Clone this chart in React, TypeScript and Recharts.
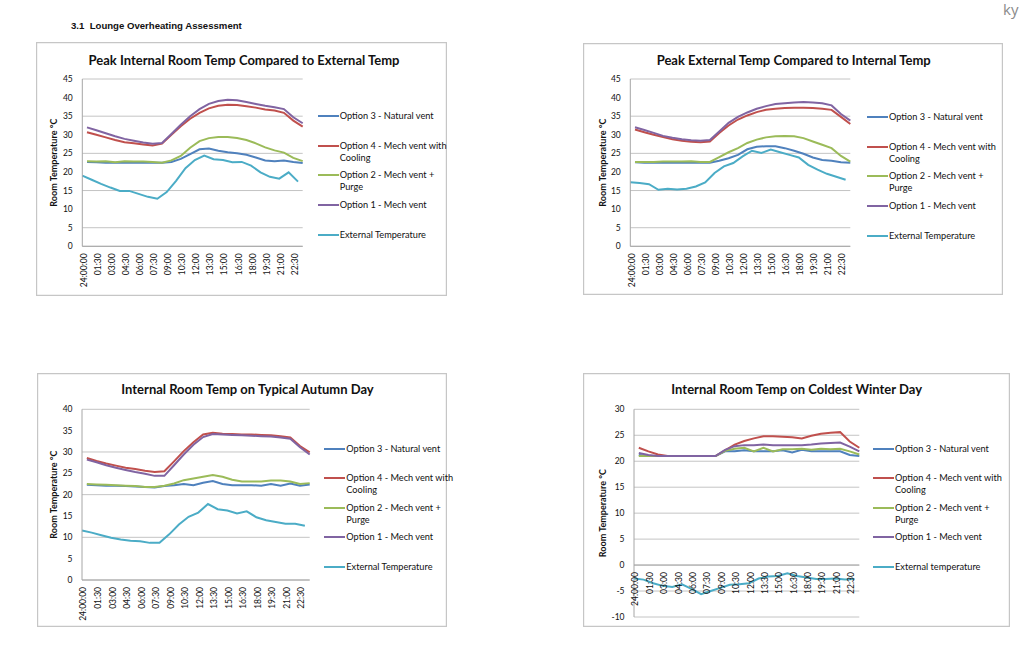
import React from 'react'
import {
  LineChart,
  Line,
  XAxis,
  YAxis,
  CartesianGrid,
  Legend,
  ReferenceLine,
} from 'recharts'

// half-hour slots, first one labelled the way the spreadsheet did it
const times = [
  '24:00:00', '00:30', '01:00', '01:30', '02:00', '02:30', '03:00', '03:30',
  '04:00', '04:30', '05:00', '05:30', '06:00', '06:30', '07:00', '07:30',
  '08:00', '08:30', '09:00', '09:30', '10:00', '10:30', '11:00', '11:30',
  '12:00', '12:30', '13:00', '13:30', '14:00', '14:30', '15:00', '15:30',
  '16:00', '16:30', '17:00', '17:30', '18:00', '18:30', '19:00', '19:30',
  '20:00', '20:30', '21:00', '21:30', '22:00', '22:30', '23:00', '23:30',
]

// options are hourly on the :30 slots, external temp hourly on the :00 slots
const peakIntO3 = [22.7, 22.6, 22.5, 22.5, 22.5, 22.5, 22.5, 22.5, 22.5, 22.7, 23.5, 24.8, 26.1, 26.3, 25.7, 25.3, 25.0, 24.6, 23.9, 23.1, 22.9, 23.1, 22.7, 22.4]
const peakIntO4 = [30.7, 30.0, 29.3, 28.6, 28.0, 27.7, 27.4, 27.1, 27.6, 30.0, 32.3, 34.3, 35.9, 37.1, 37.8, 38.1, 38.0, 37.7, 37.3, 36.8, 36.5, 35.9, 33.8, 32.2]
const peakIntO2 = [22.9, 22.8, 22.9, 22.6, 22.9, 22.8, 22.8, 22.7, 22.5, 23.1, 24.3, 26.5, 28.3, 29.1, 29.4, 29.4, 29.1, 28.6, 27.7, 26.6, 25.8, 25.2, 23.8, 22.9]
const peakIntO1 = [32.0, 31.2, 30.4, 29.6, 28.9, 28.4, 27.9, 27.6, 27.8, 30.2, 32.7, 35.0, 36.9, 38.3, 39.1, 39.4, 39.3, 38.8, 38.3, 37.8, 37.4, 36.9, 34.7, 33.1]
const peakIntExt = [19.0, 17.9, 16.8, 15.8, 14.9, 14.9, 14.1, 13.3, 12.8, 14.6, 17.6, 21.0, 23.2, 24.4, 23.4, 23.2, 22.6, 22.7, 21.7, 19.9, 18.7, 18.2, 19.9, 17.4]

const peakExtO3 = [22.6, 22.5, 22.5, 22.5, 22.5, 22.5, 22.5, 22.5, 22.5, 23.0, 23.7, 24.6, 26.1, 26.8, 26.9, 26.9, 26.4, 25.7, 24.9, 23.9, 23.2, 23.0, 22.6, 22.5]
const peakExtO4 = [31.4, 30.7, 30.0, 29.4, 28.8, 28.4, 28.1, 28.0, 28.2, 30.5, 32.5, 34.1, 35.2, 36.1, 36.7, 37.0, 37.2, 37.3, 37.3, 37.2, 37.0, 36.7, 34.8, 32.9]
const peakExtO2 = [22.7, 22.7, 22.7, 22.8, 22.8, 22.8, 22.9, 22.7, 22.7, 24.0, 25.3, 26.4, 27.8, 28.7, 29.3, 29.6, 29.7, 29.6, 29.1, 28.2, 27.3, 26.4, 24.3, 22.8]
const peakExtO1 = [32.0, 31.3, 30.5, 29.7, 29.2, 28.8, 28.5, 28.4, 28.6, 30.9, 33.2, 34.8, 36.0, 37.0, 37.7, 38.3, 38.5, 38.7, 38.8, 38.7, 38.5, 37.9, 35.6, 33.8]
const peakExtExt = [17.2, 17.0, 16.7, 15.2, 15.5, 15.3, 15.5, 16.1, 17.2, 19.7, 21.5, 22.4, 24.2, 25.7, 25.1, 26.0, 25.3, 24.6, 23.9, 21.9, 20.6, 19.5, 18.7, 17.9]

const autumnO3 = [22.3, 22.2, 22.1, 22.1, 22.0, 21.9, 21.8, 21.7, 22.0, 22.2, 22.5, 22.2, 22.8, 23.2, 22.5, 22.2, 22.2, 22.2, 22.1, 22.5, 22.1, 22.6, 22.1, 22.4]
const autumnO4 = [28.6, 27.9, 27.3, 26.8, 26.3, 26.0, 25.6, 25.3, 25.5, 27.8, 30.2, 32.3, 34.1, 34.5, 34.3, 34.2, 34.1, 34.1, 34.0, 33.9, 33.7, 33.4, 31.4, 29.9]
const autumnO2 = [22.5, 22.4, 22.3, 22.2, 22.1, 22.0, 21.8, 21.8, 22.1, 22.6, 23.4, 23.8, 24.2, 24.6, 24.2, 23.5, 23.1, 23.1, 23.1, 23.3, 23.3, 23.1, 22.5, 22.7]
const autumnO1 = [28.2, 27.6, 26.9, 26.3, 25.8, 25.3, 24.9, 24.4, 24.4, 26.9, 29.4, 31.7, 33.5, 34.2, 34.1, 34.0, 33.9, 33.8, 33.7, 33.6, 33.4, 33.1, 31.1, 29.4]
const autumnExt = [11.6, 11.1, 10.5, 9.9, 9.5, 9.2, 9.1, 8.7, 8.7, 10.7, 13.0, 14.8, 15.8, 17.8, 16.6, 16.3, 15.6, 16.1, 14.7, 14.0, 13.6, 13.2, 13.2, 12.7]

const winterO3 = [21.2, 21.0, 21.0, 21.0, 21.0, 21.0, 21.0, 21.0, 21.0, 21.9, 21.9, 22.1, 21.9, 21.9, 21.9, 22.1, 21.7, 22.2, 21.9, 21.9, 21.9, 21.9, 21.2, 21.0]
const winterO4 = [22.6, 21.9, 21.3, 21.0, 21.0, 21.0, 21.0, 21.0, 21.0, 22.1, 23.2, 23.9, 24.4, 24.8, 24.8, 24.7, 24.6, 24.4, 24.9, 25.3, 25.5, 25.6, 23.8, 22.6]
const winterO2 = [21.0, 21.0, 21.0, 21.0, 21.0, 21.0, 21.0, 21.0, 21.0, 22.0, 22.4, 22.6, 21.9, 22.6, 21.9, 22.3, 22.3, 22.4, 22.2, 22.4, 22.3, 22.4, 21.9, 21.3]
const winterO1 = [21.6, 21.2, 21.0, 21.0, 21.0, 21.0, 21.0, 21.0, 21.0, 22.2, 22.9, 23.1, 23.1, 23.2, 23.1, 23.1, 23.1, 23.1, 23.2, 23.4, 23.5, 23.6, 22.8, 21.9]
const winterExt = [-2.6, -2.8, -3.5, -4.0, -4.2, -3.7, -4.6, -5.6, -5.0, -4.4, -3.8, -3.7, -3.5, -2.6, -2.2, -2.1, -1.6, -2.1, -2.4, -2.7, -2.7, -2.6, -2.8, -2.7]

const ticks45 = [0, 5, 10, 15, 20, 25, 30, 35, 40, 45]
const ticks40 = [0, 5, 10, 15, 20, 25, 30, 35, 40]
const ticksWinter = [-10, -5, 0, 5, 10, 15, 20, 25, 30]

const FONT = 'Lato, "Noto Sans", sans-serif'
const GRID = '#c4c4c4'
const AXIS = '#a6a6a6'

function buildRows(o3: number[], o4: number[], o2: number[], o1: number[], ext: number[]) {
  return times.map((t, i) => {
    const odd = i % 2 === 1
    const h = odd ? (i - 1) / 2 : i / 2
    return {
      t,
      o3: odd ? o3[h] : null,
      o4: odd ? o4[h] : null,
      o2: odd ? o2[h] : null,
      o1: odd ? o1[h] : null,
      ext: odd ? null : ext[h],
    }
  })
}

type Series = { key: string; name: string; color: string }

const series = (extName: string): Series[] => [
  { key: 'o3', name: 'Option 3 - Natural vent', color: '#4F81BD' },
  { key: 'o4', name: 'Option 4 - Mech vent with Cooling', color: '#C0504D' },
  { key: 'o2', name: 'Option 2 - Mech vent + Purge', color: '#9BBB59' },
  { key: 'o1', name: 'Option 1 - Mech vent', color: '#8064A2' },
  { key: 'ext', name: extName, color: '#4BACC6' },
]

function XTick(props: any) {
  const { x, y, payload, shift } = props
  return (
    <g transform={`translate(${x + 1.5},${y + 7 - (shift || 0)})`}>
      <text transform="rotate(-90)" textAnchor="end" dy="0.35em" fontSize={8.5} fill="#111" fontFamily={FONT}>
        {payload.value}
      </text>
    </g>
  )
}

// legend in series order (recharts would sort it by name)
function makeLegend(list: Series[], gap: number) {
  return () => (
    <div style={{ fontFamily: FONT, fontSize: 9.2, color: '#111' }}>
      {list.map(it => (
        <div key={it.key} style={{ display: 'flex', height: gap, alignItems: 'flex-start' }}>
          <svg width={21} height={12} style={{ flex: 'none' }}>
            <line x1={0} x2={21} y1={6} y2={6} stroke={it.color} strokeWidth={2} />
          </svg>
          <div style={{ width: 114, flex: 'none', lineHeight: '12px', marginLeft: 1 }}>{it.name}</div>
        </div>
      ))}
    </div>
  )
}

type ChartProps = {
  title: string
  box: { x: number; y: number; w: number; h: number }
  plot: { l: number; r: number; t: number; b: number }
  titleX: number
  titleY: number
  yTitleX: number
  legend: { x: number; y: number; gap: number }
  domain: [number, number]
  ticks: number[]
  rows: any[]
  extName: string
}

const YW = 40
const XH = 8

function TempChart({ title, box, plot, titleX, titleY, yTitleX, legend, domain, ticks, rows, extName }: ChartProps) {
  const margin = {
    left: plot.l - box.x - YW,
    top: plot.t - box.y,
    right: box.x + box.w - plot.r,
    bottom: box.y + box.h - plot.b - XH,
  }
  // axis crosses at zero: move the category labels up to the zero line
  const shift = domain[0] < 0 ? ((plot.b - plot.t) * (0 - domain[0])) / (domain[1] - domain[0]) : 0
  const list = series(extName)
  return (
    <div
      style={{
        position: 'absolute',
        left: box.x,
        top: box.y,
        width: box.w,
        height: box.h,
        boxShadow: 'inset 0 0 0 1.2px #c6c6c6',
        background: '#fff',
      }}
    >
      <div
        style={{
          position: 'absolute',
          left: titleX - box.x,
          top: titleY - box.y - 8,
          transform: 'translateX(-50%)',
          whiteSpace: 'nowrap',
          fontFamily: FONT,
          fontWeight: 700,
          fontSize: 13,
          lineHeight: '16px',
          color: '#111',
        }}
      >
        {title}
      </div>
      <div style={{ position: 'absolute', left: 0, top: 0 }}>
        <LineChart width={box.w} height={box.h} data={rows} margin={margin}>
          <CartesianGrid vertical={false} stroke={GRID} strokeWidth={1} />
          <XAxis
            dataKey="t"
            interval={2}
            height={XH}
            tickSize={0}
            tickMargin={0}
            tickLine={false}
            axisLine={shift ? false : { stroke: AXIS }}
            tick={<XTick shift={shift} />}
          />
          <YAxis
            width={YW}
            domain={domain}
            ticks={ticks}
            allowDataOverflow
            tickSize={0}
            tickMargin={9.5}
            tickLine={false}
            axisLine={{ stroke: AXIS }}
            tick={{ fontSize: 8.5, fill: '#111', fontFamily: FONT }}
            label={{
              value: 'Room Temperature °C',
              angle: -90,
              position: 'insideLeft',
              offset: yTitleX - (plot.l - YW),
              style: { textAnchor: 'middle', fontSize: 9, fontWeight: 700, fill: '#111', fontFamily: FONT },
            }}
          />
          {shift ? <ReferenceLine y={0} stroke={AXIS} strokeWidth={1} /> : null}
          <Legend
            layout="vertical"
            align="center"
            verticalAlign="middle"
            content={makeLegend(list, legend.gap)}
            wrapperStyle={{ left: legend.x - box.x, top: legend.y - box.y - 6, width: 136, right: 'auto', bottom: 'auto' }}
          />
          {list.map(s => (
            <Line
              key={s.key}
              type="linear"
              dataKey={s.key}
              name={s.name}
              stroke={s.color}
              strokeWidth={2}
              dot={false}
              activeDot={false}
              connectNulls
              isAnimationActive={false}
            />
          ))}
        </LineChart>
      </div>
    </div>
  )
}

export default function App() {
  return (
    <div style={{ position: 'absolute', left: 0, top: 0, width: 1023, height: 663, background: '#fff', overflow: 'hidden' }}>
      <div
        style={{
          position: 'absolute',
          left: 71,
          top: 20,
          fontFamily: '"Liberation Sans", Arial, sans-serif',
          fontWeight: 700,
          fontSize: 9.6,
          whiteSpace: 'pre',
          color: '#111',
        }}
      >
        {'3.1  Lounge Overheating Assessment'}
      </div>
      <div
        style={{
          position: 'absolute',
          left: 1003,
          top: -1,
          fontFamily: '"Open Sans", sans-serif',
          fontSize: 15,
          color: '#8a8a8a',
        }}
      >
        ky
      </div>
      <TempChart
        title="Peak Internal Room Temp Compared to External Temp"
        box={{ x: 36, y: 42, w: 411, h: 254 }}
        plot={{ l: 82.3, r: 302.7, t: 79, b: 246.3 }}
        titleX={244}
        titleY={60}
        yTitleX={54.3}
        legend={{ x: 317.7, y: 116, gap: 29.7 }}
        domain={[0, 45]}
        ticks={ticks45}
        rows={buildRows(peakIntO3, peakIntO4, peakIntO2, peakIntO1, peakIntExt)}
        extName="External Temperature"
      />
      <TempChart
        title="Peak External Temp Compared to Internal Temp"
        box={{ x: 583, y: 43, w: 420, h: 252 }}
        plot={{ l: 630.3, r: 850.3, t: 79, b: 246.3 }}
        titleX={793.7}
        titleY={60}
        yTitleX={603.3}
        legend={{ x: 867, y: 117, gap: 29.7 }}
        domain={[0, 45]}
        ticks={ticks45}
        rows={buildRows(peakExtO3, peakExtO4, peakExtO2, peakExtO1, peakExtExt)}
        extName="External Temperature"
      />
      <TempChart
        title="Internal Room Temp on Typical Autumn Day"
        box={{ x: 37, y: 373, w: 410, h: 254 }}
        plot={{ l: 82, r: 309.7, t: 409.3, b: 580 }}
        titleX={247.5}
        titleY={389}
        yTitleX={53.7}
        legend={{ x: 324.3, y: 448.7, gap: 29.5 }}
        domain={[0, 40]}
        ticks={ticks40}
        rows={buildRows(autumnO3, autumnO4, autumnO2, autumnO1, autumnExt)}
        extName="External Temperature"
      />
      <TempChart
        title="Internal Room Temp on Coldest Winter Day"
        box={{ x: 583, y: 373, w: 427, h: 254 }}
        plot={{ l: 634, r: 859.3, t: 409.3, b: 617 }}
        titleX={796.7}
        titleY={389}
        yTitleX={603}
        legend={{ x: 873, y: 448.7, gap: 29.5 }}
        domain={[-10, 30]}
        ticks={ticksWinter}
        rows={buildRows(winterO3, winterO4, winterO2, winterO1, winterExt)}
        extName="External temperature"
      />
    </div>
  )
}
